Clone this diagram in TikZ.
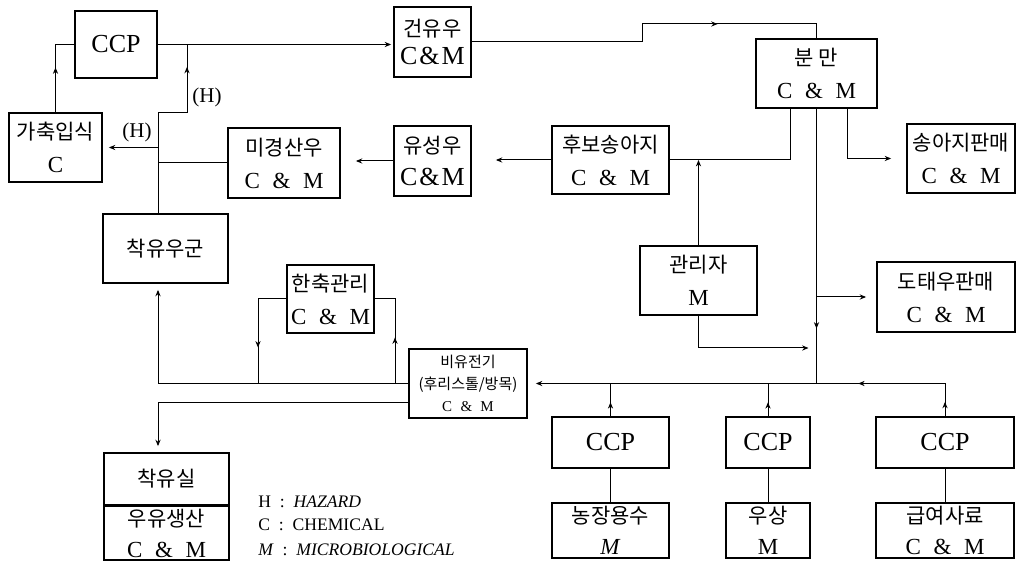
\documentclass[tikz,border=0pt]{standalone}
\usepackage{fontspec}
\setmainfont{Liberation Serif}
\newfontfamily\kr{Noto Sans CJK KR}
\usetikzlibrary{arrows.meta,decorations.markings}
\newcommand{\CaM}{C\hspace{0.55em}\&\hspace{0.55em}M}
\newcommand{\ko}[1]{{\kr\fontsize{10.5}{16.5}\selectfont #1}}

\begin{document}
\begin{tikzpicture}[x=0.5pt,y=-0.5pt,
  box/.style={draw,line width=0.9pt,inner sep=0pt,align=center,font=\fontsize{11.5}{16.5}\selectfont},
  lowbox/.style={box,font=\fontsize{11.5}{15.5}\selectfont},
  ccp/.style={box,line width=1.2pt,font=\fontsize{13}{15}\selectfont},
  conn/.style={line width=0.5pt},
  >={Stealth[length=3.2pt,width=2.6pt]},
  midarrow/.style={postaction={decorate},decoration={markings,mark=at position #1 with {\arrow{Stealth[length=3.2pt,width=2.6pt]}}}},
  twoarrows/.style 2 args={postaction={decorate},decoration={markings,mark=at position #1 with {\arrow{Stealth[length=3.2pt,width=2.6pt]}},mark=at position #2 with {\arrow{Stealth[length=3.2pt,width=2.6pt]}}}},
  legend/.style={anchor=west,inner sep=0pt,font=\fontsize{8.8}{11}\selectfont},
  hlabel/.style={inner sep=0pt,font=\fontsize{10.5}{12}\selectfont}]
\useasboundingbox (0,0) rectangle (1018,561);
\node[ccp,minimum width=41pt,minimum height=33.5pt] (ccpA) at (116,44.5) {CCP};
\node[box,minimum width=38.5pt,minimum height=35pt,font=\fontsize{13}{14}\selectfont] (geon) at (432.5,42) {\ko{건유우}\\C\kern1pt\&\kern1pt M};
\node[box,minimum width=60.5pt,minimum height=34.5pt] (bunman) at (816.5,73.5) {\ko{분 만}\\\CaM};
\node[box,minimum width=54pt,minimum height=34.5pt] (song) at (961,158.5) {\ko{송아지판매}\\\CaM};
\node[box,minimum width=58.5pt,minimum height=34pt] (hubo) at (610.5,160) {\ko{후보송아지}\\\CaM};
\node[box,minimum width=38.5pt,minimum height=35pt,font=\fontsize{13}{14}\selectfont] (yuseong) at (432.5,161) {\ko{유성우}\\[2pt]C\kern1pt\&\kern1pt M};
\node[box,minimum width=56pt,minimum height=35pt] (migyeong) at (284,163) {\ko{미경산우}\\\CaM};
\node[box,minimum width=46.5pt,minimum height=34.5pt] (gachuk) at (55.5,147.5) {\ko{가축입식}\\C};
\node[box,minimum width=62.5pt,minimum height=34.5pt] (chakyu) at (165.5,248.5) {\ko{착유우군}};
\node[box,minimum width=43.5pt,minimum height=34pt] (hanchuk) at (330.5,299) {\ko{한축관리}\\\CaM};
\node[box,minimum width=58.5pt,minimum height=34.5pt] (gwanri) at (698.5,280.5) {\ko{관리자}\\M};
\node[box,minimum width=69pt,minimum height=35pt] (dotae) at (946,297) {\ko{도태우판매}\\\CaM};
\node[box,minimum width=59pt,minimum height=34.5pt,font=\fontsize{7.5}{11}\selectfont] (biyu) at (468,383.5) {{\kr 비유전기}\\{\kr (후리스톨/방목)}\\\CaM};
\node[ccp,minimum width=58.5pt,minimum height=25.5pt] (ccpW) at (610.5,442.5) {CCP};
\node[lowbox,minimum width=58.5pt,minimum height=27.5pt] (water) at (610.5,530.5) {\ko{농장용수}\\\textit{M}};
\node[ccp,minimum width=42pt,minimum height=25.5pt] (ccpU) at (768,442.5) {CCP};
\node[lowbox,minimum width=42pt,minimum height=27.5pt] (usang) at (768,530.5) {\ko{우상}\\M};
\node[ccp,minimum width=69pt,minimum height=25.5pt] (ccpF) at (945,442.5) {CCP};
\node[lowbox,minimum width=69pt,minimum height=27.5pt] (feed) at (945,530.5) {\ko{급여사료}\\\CaM};
\node[box,minimum width=62.5pt,minimum height=26pt] (milkroom) at (166.5,479) {\ko{착유실}};
\node[lowbox,minimum width=62.5pt,minimum height=27pt] (milkprod) at (166.5,533) {\ko{우유생산}\\\CaM};
\node[hlabel] (hzA) at (137,132) {(H)};
\node[hlabel] (hzB) at (207,97) {(H)};
\node[legend] (legH) at (258,502) {H\ \ :\ \ \textit{HAZARD}};
\node[legend] (legC) at (258,525) {C\ \ :\ \ CHEMICAL};
\node[legend] (legM) at (258,550) {\textit{M}\ \ :\ \ \textit{MICROBIOLOGICAL}};
\coordinate (trunk) at (158,113);
\draw[conn,->,shorten >=1pt] (ccpA.east) -- (ccpA.east -| geon.west);
\draw[conn,midarrow=0.7] (geon.east) -- ++(171,0) |- (bunman.north |- 0,24) -- (bunman.north);
\draw[conn] (790,0 |- bunman.south) |- (hubo.east);
\draw[conn,->,shorten >=7.5pt] (847,0 |- bunman.south) |- (song.west);
\draw[conn,midarrow=0.8] (bunman.south) -- (bunman.south |- biyu.east);
\draw[conn,->,shorten >=5pt] (bunman.south |- dotae.west) -- (dotae.west);
\draw[conn,->] (gwanri.north) -- (gwanri.north |- hubo.east);
\draw[conn,->,shorten >=4pt] (gwanri.south) |- (bunman.south |- 0,348);
\draw[conn,->,shorten >=12pt] (hubo.west) -- (hubo.west -| yuseong.east);
\draw[conn,->,shorten >=7.5pt] (yuseong.west) -- (yuseong.west -| migyeong.east);
\draw[conn] (trunk) -- (trunk |- chakyu.north);
\draw[conn] (migyeong.west) -- (migyeong.west -| trunk);
\draw[conn,->,shorten >=3pt] (trunk |- gachuk.east) -- (gachuk.east);
\draw[conn,midarrow=0.77] (trunk) -| (187,0 |- ccpA.east);
\draw[conn,midarrow=0.52] (gachuk.north) |- (ccpA.west);
\draw[conn,->,shorten >=3pt] (biyu.west) -| (trunk |- chakyu.south);
\draw[conn,midarrow=0.68] (hanchuk.west) -| (258,0 |- biyu.west);
\draw[conn,midarrow=0.44] (395,0 |- biyu.west) |- (hanchuk.east);
\draw[conn,->,shorten >=3pt] (biyu.west |- 0,403) -| (trunk |- milkroom.north);
\draw[conn,->,shorten >=4pt,twoarrows={0.031}{0.265}] (ccpF.north) |- (biyu.east);
\draw[conn,midarrow=0.42] (ccpU.north) -- (ccpU.north |- biyu.east);
\draw[conn,midarrow=0.42] (ccpW.north) -- (ccpW.north |- biyu.east);
\draw[conn] (ccpW) -- (water);
\draw[conn] (ccpU) -- (usang);
\draw[conn] (ccpF) -- (feed);
\end{tikzpicture}
\end{document}
